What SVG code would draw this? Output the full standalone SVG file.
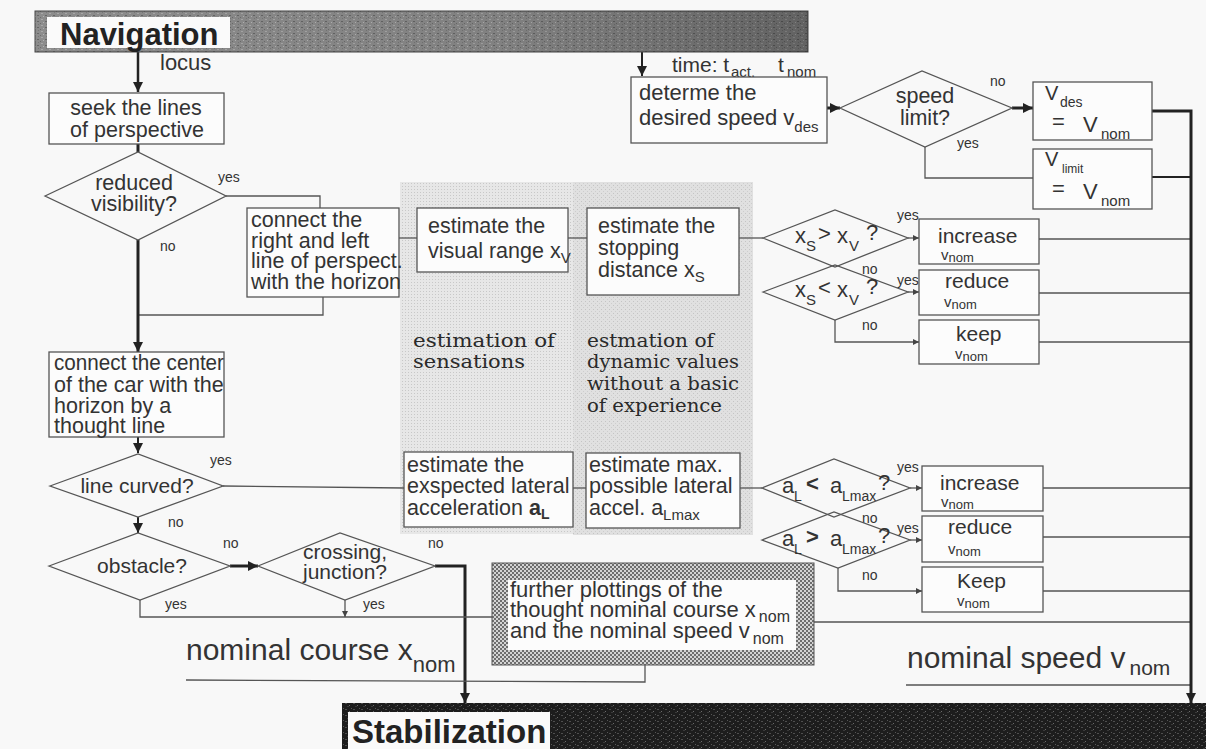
<svg xmlns="http://www.w3.org/2000/svg" width="1206" height="749" viewBox="0 0 1206 749" font-size="21.5">
<defs>
<style>
.t{font-family:"Liberation Sans",Arial,sans-serif;fill:#333}
.m{text-anchor:middle}
.s{font-family:"Liberation Sans",Arial,sans-serif;font-size:14px;fill:#333}
.ser{font-family:"DejaVu Serif","Liberation Serif",serif;font-size:18.5px;fill:#2a2a2a}
.box{fill:#fcfcfc;stroke:#555;stroke-width:1.3}
.dia{fill:none;stroke:#555;stroke-width:1.3}
.ln{fill:none;stroke:#555;stroke-width:1.3}
.th{fill:none;stroke:#222;stroke-width:3}
.ar{marker-end:url(#ah)}
.ars{marker-end:url(#ahs)}
</style>
<marker id="ah" viewBox="0 0 10 10" refX="10" refY="5" markerWidth="10" markerHeight="10" markerUnits="userSpaceOnUse" orient="auto"><path d="M0,0 L10,5 L0,10 z" fill="#222"/></marker>
<marker id="ahs" viewBox="0 0 10 10" refX="10" refY="5" markerWidth="6" markerHeight="6" markerUnits="userSpaceOnUse" orient="auto"><path d="M0,0 L10,5 L0,10 z" fill="#444"/></marker>
<pattern id="navtex" width="8" height="6" patternUnits="userSpaceOnUse">
<rect width="8" height="6" fill="#8c8c8c"/><rect x="1" y="1" width="2" height="1" fill="#a8a8a8"/><rect x="5" y="3" width="2" height="1" fill="#666"/><rect x="3" y="4" width="1" height="1" fill="#b4b4b4"/><rect x="0" y="5" width="1" height="1" fill="#6c6c6c"/><rect x="6" y="0" width="1" height="1" fill="#777"/>
</pattern>
<linearGradient id="navg" x1="0" x2="1" y1="0" y2="0"><stop offset="0" stop-color="#000" stop-opacity="0"/><stop offset="0.6" stop-color="#000" stop-opacity="0.08"/><stop offset="1" stop-color="#000" stop-opacity="0.3"/></linearGradient>
<pattern id="stabtex" width="8" height="6" patternUnits="userSpaceOnUse">
<rect width="8" height="6" fill="#1d1d1d"/><rect x="1" y="1" width="2" height="1" fill="#4e4e4e"/><rect x="5" y="3" width="1" height="1" fill="#6a6a6a"/><rect x="3" y="4" width="2" height="1" fill="#3a3a3a"/><rect x="7" y="0" width="1" height="1" fill="#555"/>
</pattern>
<pattern id="checker" width="4" height="4" patternUnits="userSpaceOnUse">
<rect width="4" height="4" fill="#d4d4d4"/><rect width="2" height="2" fill="#6e6e6e"/><rect x="2" y="2" width="2" height="2" fill="#6e6e6e"/>
</pattern>
<pattern id="dots1" width="3" height="3" patternUnits="userSpaceOnUse">
<rect width="3" height="3" fill="#e7e7e7"/><rect width="1" height="1" fill="#c8c8c8"/>
</pattern>
<pattern id="dots2" width="4" height="4" patternUnits="userSpaceOnUse">
<rect width="4" height="4" fill="#e0e0e0"/><rect x="1" y="1" width="1" height="1" fill="#c4c4c4"/><rect x="3" y="3" width="1" height="1" fill="#cdcdcd"/>
</pattern>
</defs>

<rect width="1206" height="749" fill="#f8f8f8"/>

<g id="shading">
<rect x="400" y="182" width="173" height="352" fill="url(#dots1)"/>
<rect x="573" y="182" width="180" height="353" fill="url(#dots2)"/>
<text class="ser" x="413" y="347" textLength="142" lengthAdjust="spacingAndGlyphs">estimation of</text>
<text class="ser" x="413" y="368" textLength="112" lengthAdjust="spacingAndGlyphs">sensations</text>
<text class="ser" x="587" y="347" textLength="127" lengthAdjust="spacingAndGlyphs">estmation of</text>
<text class="ser" x="587" y="368" textLength="152" lengthAdjust="spacingAndGlyphs">dynamic values</text>
<text class="ser" x="587" y="390" textLength="152" lengthAdjust="spacingAndGlyphs">without a basic</text>
<text class="ser" x="587" y="412" textLength="135" lengthAdjust="spacingAndGlyphs">of experience</text>
</g>

<g id="connectors">
<line class="th ar" x1="138" y1="52" x2="138" y2="92" style="stroke-width:2.5"/>
<line class="th" x1="138" y1="144" x2="138" y2="152"/>
<polyline class="ln" points="226,196 320,196 320,208"/>
<polyline class="ln" points="323,297 323,315 138,315"/>
<line class="th ar" x1="138" y1="240" x2="138" y2="352"/>
<line class="th ar" x1="138" y1="437" x2="138" y2="453" style="stroke-width:2"/>
<line class="ln" x1="223" y1="486" x2="404" y2="488"/>
<line class="th ar" x1="138" y1="517" x2="138" y2="533" style="stroke-width:2"/>
<line class="th ar" x1="230" y1="566" x2="258" y2="566"/>
<polyline class="th ar" points="435,566 465,566 465,703"/>
<polyline class="ln" points="140,600 140,617 492,617"/>
<line class="ln ars" x1="345" y1="600" x2="345" y2="617"/>
<polyline class="ln" points="186,680 645,682 645,665"/>
<line class="ln" x1="399" y1="238" x2="417" y2="238"/>
<line class="ln" x1="568" y1="238" x2="587" y2="238"/>
<line class="ln" x1="739" y1="238" x2="763" y2="238"/>
<line class="ln" x1="573" y1="488" x2="586" y2="488"/>
<line class="ln" x1="740" y1="488" x2="762" y2="488"/>
<line class="ln ars" x1="908" y1="238" x2="919" y2="238"/>
<line class="ln ars" x1="908" y1="292" x2="919" y2="292"/>
<polyline class="ln ars" points="835,320 835,342 919,342"/>
<line class="ln ars" x1="910" y1="488" x2="922" y2="488"/>
<line class="ln ars" x1="910" y1="540" x2="922" y2="540"/>
<polyline class="ln ars" points="838,568 838,591 922,591"/>
<line class="ln" x1="1039" y1="239" x2="1191" y2="239"/>
<line class="ln" x1="1039" y1="293" x2="1191" y2="293"/>
<line class="ln" x1="1039" y1="342" x2="1191" y2="342"/>
<line class="ln" x1="1043" y1="488" x2="1191" y2="488"/>
<line class="ln" x1="1043" y1="537" x2="1191" y2="537"/>
<line class="ln" x1="1043" y1="591" x2="1191" y2="591"/>
<line class="ln" x1="814" y1="622" x2="1191" y2="622"/>
<line class="ln" x1="906" y1="685" x2="1191" y2="685"/>
<line class="th ar" x1="642" y1="52" x2="642" y2="76" style="stroke-width:2"/>
<line class="th ar" x1="827" y1="108" x2="840" y2="108"/>
<line class="th ar" x1="1012" y1="108" x2="1033" y2="108"/>
<polyline class="ln" points="925,147 925,178 1033,178"/>
<polyline class="th ar" points="1152,111 1191,111 1191,703"/>
<line class="th" x1="1152" y1="177" x2="1191" y2="177" style="stroke-width:2"/>
<text class="t" x="160" y="70" font-size="22">locus</text>
<text class="s" x="218" y="182">yes</text>
<text class="s" x="160" y="251">no</text>
<text class="s" x="210" y="465">yes</text>
<text class="s" x="168" y="527">no</text>
<text class="s" x="223" y="548">no</text>
<text class="s" x="428" y="548">no</text>
<text class="s" x="165" y="609">yes</text>
<text class="s" x="363" y="609">yes</text>
<text class="s" x="990" y="86">no</text>
<text class="s" x="957" y="148">yes</text>
<text class="s" x="897" y="220">yes</text>
<text class="s" x="862" y="274">no</text>
<text class="s" x="897" y="285">yes</text>
<text class="s" x="862" y="330">no</text>
<text class="s" x="897" y="472">yes</text>
<text class="s" x="862" y="523">no</text>
<text class="s" x="897" y="533">yes</text>
<text class="s" x="862" y="580">no</text>
<text class="t" x="672" y="72" font-size="21">time: t</text>
<text class="t" x="731" y="77" font-size="15">act,</text>
<text class="t" x="778" y="72" font-size="21">t</text>
<text class="t" x="787" y="77" font-size="15">nom</text>
</g>

<g id="navigation">
<rect x="35" y="11" width="773" height="41" fill="url(#navtex)" stroke="#444"/>
<rect x="35" y="11" width="773" height="41" fill="url(#navg)"/>
<rect x="47" y="17" width="183" height="31" fill="#fafafa"/>
<text x="60" y="45" font-family="Liberation Sans,Arial,sans-serif" font-weight="bold" font-size="31" fill="#222">Navigation</text>
</g>

<g id="seek">
<rect class="box" x="49" y="93" width="175" height="51"/>
<text class="t m" x="136" y="115">seek the lines</text>
<text class="t m" x="137" y="137">of perspective</text>
</g>

<g id="reduced-visibility">
<polygon class="dia" points="45,196 138,152 226,196 138,240"/>
<text class="t m" x="134" y="190">reduced</text>
<text class="t m" x="134" y="211">visibility?</text>
</g>

<g id="connect-lines">
<rect class="box" x="247" y="208" width="152" height="89"/>
<text class="t" x="251" y="227">connect the</text>
<text class="t" x="251" y="248">right and left</text>
<text class="t" x="251" y="268">line of perspect.</text>
<text class="t" x="251" y="289" textLength="150" lengthAdjust="spacingAndGlyphs">with the horizon</text>
</g>

<g id="connect-center">
<rect class="box" x="49" y="352" width="175" height="85"/>
<text class="t" x="54" y="370" textLength="170" lengthAdjust="spacingAndGlyphs">connect the center</text>
<text class="t" x="54" y="392">of the car with the</text>
<text class="t" x="54" y="413">horizon by a</text>
<text class="t" x="54" y="433">thought line</text>
</g>

<g id="line-curved">
<polygon class="dia" points="50,486 138,454 223,486 138,517"/>
<text class="t m" x="137" y="493" font-size="21">line curved?</text>
</g>

<g id="obstacle">
<polygon class="dia" points="49,566 138,533 230,566 140,600"/>
<text class="t m" x="142" y="573" font-size="21">obstacle?</text>
</g>

<g id="crossing">
<polygon class="dia" points="258,566 340,533 435,566 345,600"/>
<text class="t m" x="345" y="559" font-size="21">crossing,</text>
<text class="t m" x="345" y="579" font-size="21">junction?</text>
</g>

<g id="nominal-course">
<text class="t" x="186" y="660" font-size="30">nominal course x<tspan dy="12" font-size="22">nom</tspan></text>
</g>

<g id="visual-range">
<rect class="box" x="417" y="208" width="151" height="64"/>
<text class="t" x="428" y="233">estimate the</text>
<text class="t" x="428" y="258">visual range x<tspan dy="5" font-size="15">V</tspan></text>
</g>

<g id="stopping-distance">
<rect class="box" x="587" y="208" width="152" height="87"/>
<text class="t" x="598" y="233">estimate the</text>
<text class="t" x="598" y="255">stopping</text>
<text class="t" x="598" y="277">distance x<tspan dy="5" font-size="15">S</tspan></text>
</g>

<g id="lateral-accel">
<rect class="box" x="404" y="452" width="169" height="75"/>
<text class="t" x="407" y="472" font-size="21.5">estimate the</text>
<text class="t" x="407" y="493" font-size="21.5">exspected lateral</text>
<text class="t" x="407" y="515" font-size="21.5">acceleration <tspan font-weight="bold">a</tspan><tspan dy="4" font-size="14" font-weight="bold">L</tspan></text>
</g>

<g id="max-accel">
<rect class="box" x="586" y="453" width="154" height="75"/>
<text class="t" x="589" y="472" font-size="21.5">estimate max.</text>
<text class="t" x="589" y="493" font-size="21.5">possible lateral</text>
<text class="t" x="589" y="515" font-size="21.5">accel. a<tspan dy="5" font-size="15">Lmax</tspan></text>
</g>

<g id="cmp-xs-gt-xv">
<polygon class="dia" points="763,238 835,210 908,238 835,267"/>
<text class="t" x="795" y="243" font-size="22">x</text>
<text class="t" x="806" y="251" font-size="15">S</text>
<text class="t" x="818" y="241" font-size="22">&gt;</text>
<text class="t" x="837" y="243" font-size="22">x</text>
<text class="t" x="849" y="251" font-size="15">V</text>
<text class="t" x="866" y="240" font-size="22">?</text>
</g>

<g id="cmp-xs-lt-xv">
<polygon class="dia" points="763,292 835,265 908,292 835,320"/>
<text class="t" x="795" y="297" font-size="22">x</text>
<text class="t" x="806" y="305" font-size="15">S</text>
<text class="t" x="818" y="295" font-size="22">&lt;</text>
<text class="t" x="837" y="297" font-size="22">x</text>
<text class="t" x="849" y="305" font-size="15">V</text>
<text class="t" x="866" y="294" font-size="22">?</text>
</g>

<g id="increase-1">
<rect class="box" x="919" y="219" width="120" height="45"/>
<text class="t" x="938" y="243" font-size="21">increase</text>
<text class="t" x="941" y="260" font-size="15">v<tspan dy="2" font-size="13">nom</tspan></text>
</g>
<g id="reduce-1">
<rect class="box" x="919" y="270" width="120" height="45"/>
<text class="t" x="945" y="288" font-size="21">reduce</text>
<text class="t" x="944" y="307" font-size="15">v<tspan dy="2" font-size="13">nom</tspan></text>
</g>
<g id="keep-1">
<rect class="box" x="919" y="320" width="120" height="44"/>
<text class="t" x="956" y="341" font-size="21">keep</text>
<text class="t" x="955" y="359" font-size="15">v<tspan dy="2" font-size="13">nom</tspan></text>
</g>

<g id="cmp-al-lt">
<polygon class="dia" points="762,488 834,459 910,488 834,517"/>
<text class="t" x="782" y="493" font-size="22">a</text>
<text class="t" x="794" y="501" font-size="14">L</text>
<text class="t" x="806" y="491" font-size="22" font-weight="bold">&lt;</text>
<text class="t" x="830" y="493" font-size="22">a</text>
<text class="t" x="842" y="501" font-size="14">Lmax</text>
<text class="t" x="878" y="490" font-size="22">?</text>
</g>

<g id="cmp-al-gt">
<polygon class="dia" points="762,540 834,512 910,540 838,568"/>
<text class="t" x="782" y="546" font-size="22">a</text>
<text class="t" x="794" y="554" font-size="14">L</text>
<text class="t" x="806" y="544" font-size="22" font-weight="bold">&gt;</text>
<text class="t" x="830" y="546" font-size="22">a</text>
<text class="t" x="842" y="554" font-size="14">Lmax</text>
<text class="t" x="878" y="543" font-size="22">?</text>
</g>

<g id="increase-2">
<rect class="box" x="922" y="466" width="121" height="45"/>
<text class="t" x="940" y="490" font-size="21">increase</text>
<text class="t" x="941" y="507" font-size="15">v<tspan dy="2" font-size="13">nom</tspan></text>
</g>
<g id="reduce-2">
<rect class="box" x="922" y="516" width="121" height="46"/>
<text class="t" x="948" y="534" font-size="21">reduce</text>
<text class="t" x="948" y="554" font-size="15">v<tspan dy="2" font-size="13">nom</tspan></text>
</g>
<g id="keep-2">
<rect class="box" x="922" y="567" width="121" height="45"/>
<text class="t" x="957" y="588" font-size="21">Keep</text>
<text class="t" x="957" y="606" font-size="15">v<tspan dy="2" font-size="13">nom</tspan></text>
</g>

<g id="further-plottings">
<rect x="492" y="563" width="322" height="102" fill="url(#checker)" stroke="#555"/>
<rect x="508" y="580" width="288" height="70" fill="#fcfcfc"/>
<text class="t" x="510" y="597" font-size="22">further plottings of the</text>
<text class="t" x="510" y="617" font-size="22">thought nominal course x<tspan dx="3" dy="5" font-size="16">nom</tspan></text>
<text class="t" x="510" y="638" font-size="22">and the nominal speed v<tspan dx="3" dy="6" font-size="16">nom</tspan></text>
</g>

<g id="nominal-speed">
<text class="t" x="907" y="668" font-size="30">nominal speed v<tspan dx="4" dy="7" font-size="21">nom</tspan></text>
</g>

<g id="determine-speed">
<rect class="box" x="631" y="77" width="196" height="66"/>
<text class="t" x="639" y="100" font-size="22">determe the</text>
<text class="t" x="639" y="125" font-size="22">desired speed v<tspan dy="7" font-size="15">des</tspan></text>
</g>

<g id="speed-limit">
<polygon class="dia" points="840,108 922,71 1012,108 925,147"/>
<text class="t m" x="925" y="103">speed</text>
<text class="t m" x="925" y="125">limit?</text>
</g>

<g id="v-des">
<rect class="box" x="1033" y="82" width="119" height="58"/>
<text class="t" x="1045" y="100" font-size="20">V</text>
<text class="t" x="1060" y="107" font-size="14">des</text>
<text class="t" x="1052" y="129" font-size="22">=</text>
<text class="t" x="1083" y="132" font-size="22">V</text>
<text class="t" x="1101" y="139" font-size="15">nom</text>
</g>

<g id="v-limit">
<rect class="box" x="1033" y="149" width="119" height="60"/>
<text class="t" x="1045" y="166" font-size="20">V</text>
<text class="t" x="1062" y="173" font-size="12">limit</text>
<text class="t" x="1052" y="196" font-size="22">=</text>
<text class="t" x="1083" y="199" font-size="22">V</text>
<text class="t" x="1101" y="206" font-size="15">nom</text>
</g>

<g id="stabilization">
<rect x="342" y="703" width="864" height="46" fill="url(#stabtex)"/>
<rect x="348" y="712" width="202" height="37" fill="#fafafa"/>
<text x="352" y="743" font-family="Liberation Sans,Arial,sans-serif" font-weight="bold" font-size="33" fill="#222">Stabilization</text>
</g>
</svg>
